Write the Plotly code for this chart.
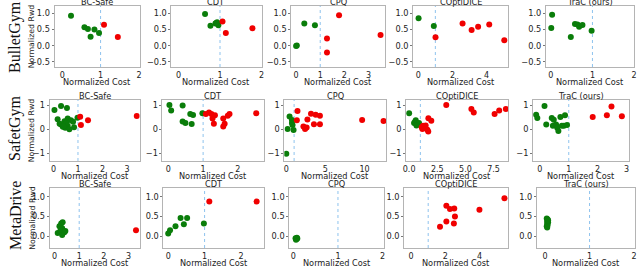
import plotly.graph_objects as go

W, H = 640, 266

ROW_LABELS = ["BulletGym", "SafetGym", "MetaDrive"]
METHODS = ["BC-Safe", "CDT", "CPQ", "COptiDICE", "TraC (ours)"]

# ---------------- BulletGym ----------------
BG_BCSAFE_COST = [0.23, 0.58, 0.67, 0.84, 0.74, 0.96, 1.09, 1.45]
BG_BCSAFE_RWD = [0.93, 0.57, 0.52, 0.50, 0.28, 0.39, 0.65, 0.27]
BG_CDT_COST = [0.64, 0.77, 0.89, 0.93, 0.96, 0.91, 1.06, 1.14, 1.78]
BG_CDT_RWD = [0.98, 0.62, 0.69, 0.73, 0.63, 0.70, 0.75, 0.39, 0.54]
BG_CPQ_COST = [0.03, 0.00, 0.34, 0.78, 1.78, 1.28, 1.28, 3.50]
BG_CPQ_RWD = [0.01, -0.01, 0.69, 0.63, 0.94, 0.22, -0.21, 0.33]
BG_COPTI_COST = [0.02, 0.91, 1.01, 2.59, 3.12, 3.50, 4.15, 5.03]
BG_COPTI_RWD = [0.85, 0.61, 0.26, 0.69, 0.49, 0.59, 0.66, 0.17]
BG_TRAC_COST = [0.03, 0.01, 0.48, 0.58, 0.64, 0.68, 0.76, 0.98]
BG_TRAC_RWD = [0.96, 0.55, 0.27, 0.67, 0.66, 0.59, 0.64, 0.46]

# ---------------- SafetyGym ----------------
SG_BCSAFE_COST = [0.04, 0.31, 0.55, 0.17, 0.31, 0.38, 0.48, 0.58, 0.58, 0.71,
                  0.80, 0.65, 0.84, 0.45, 0.98, 0.25, 0.52, 0.40, 1.09, 1.12, 1.41, 3.40]
SG_BCSAFE_RWD = [0.79, 0.96, 0.88, 0.41, 0.19, 0.10, 0.05, 0.14, 0.44, 0.37,
                 0.30, -0.01, 0.08, 0.32, 0.47, 0.22, 0.25, 0.12, 0.51, 0.17, 0.37, 0.54]
SG_CDT_COST = [0.03, 0.08, 0.41, 0.41, 0.49, 0.63, 0.71, 0.67, 0.98,
               1.08, 1.17, 1.24, 1.27, 1.34, 1.31, 1.58, 1.62, 1.58, 1.71, 1.76, 2.53]
SG_CDT_RWD = [1.00, 0.77, 0.98, 0.31, 0.25, 0.63, 0.59, 0.21, 0.66,
              0.63, 0.69, 0.63, 0.44, 0.58, 0.22, 0.44, 0.22, 0.11, 0.55, 0.63, 0.66]
SG_CPQ_COST = [0.00, 0.17, 0.42, 0.72, 0.72, 0.80, 0.93, 1.43, 1.35, 2.70, 2.19,
               2.40, 2.60, 3.16, 3.76, 4.30, 3.54, 4.30, 9.70, 12.44]
SG_CPQ_RWD = [-1.03, 0.00, 0.52, 0.38, 0.25, 0.17, -0.04, 0.75, 0.37, 0.40, 0.11,
              0.00, 0.07, 0.64, 0.60, 0.55, 0.20, 0.20, 0.38, 0.34]
SG_COPTI_COST = [0.00, 0.44, 0.59, 0.53, 0.74, 0.88, 0.65, 1.12, 1.24, 1.47, 1.18,
                 1.62, 1.70, 1.71, 1.97, 3.30, 5.53, 5.74, 7.59, 8.00, 8.59]
SG_COPTI_RWD = [0.66, 0.25, 0.37, 0.30, 0.19, 0.25, 0.15, 0.08, 0.14, 0.15, 0.00,
                -0.03, -0.10, 0.45, 0.35, 1.00, 0.84, 0.69, 0.63, 0.77, 0.84]
SG_TRAC_COST = [-0.13, -0.09, 0.16, 0.22, 0.41, 0.48, 0.45, 0.56, 0.60, 0.64,
                0.71, 0.83, 0.87, 0.94, 0.76, 1.83, 2.32, 2.48, 2.84]
SG_TRAC_RWD = [0.60, 0.46, 0.96, 0.19, 0.46, 0.39, 0.14, 0.19, 0.05, -0.08,
               0.50, 0.14, 0.57, 0.17, 0.14, 0.50, 0.57, 0.94, 0.53]

# ---------------- MetaDrive ----------------
MD_BCSAFE_COST = [0.13, 0.20, 0.27, 0.33, 0.31, 0.24, 0.40, 0.31, 0.44, 3.30]
MD_BCSAFE_RWD = [0.08, 0.25, 0.32, 0.35, 0.20, 0.14, 0.10, 0.03, 0.13, 0.15]
MD_CDT_COST = [0.00, 0.05, 0.20, 0.34, 0.43, 0.52, 0.98, 1.13, 2.43]
MD_CDT_RWD = [0.07, 0.15, 0.25, 0.46, 0.30, 0.46, 0.32, 0.88, 0.88]
MD_CPQ_COST = [0.05, 0.07, 0.09, 0.06, 0.08]
MD_CPQ_RWD = [-0.05, -0.07, -0.06, -0.09, -0.04]
MD_COPTI_COST = [5.45, 2.06, 2.27, 2.52, 3.99, 2.56, 2.06, 2.50, 1.69]
MD_COPTI_RWD = [0.96, 0.77, 0.69, 0.70, 0.67, 0.50, 0.37, 0.32, 0.24]
MD_TRAC_COST = [0.04, 0.06, 0.05, 0.07, 0.05, 0.06, 0.04, 0.07, 0.05]
MD_TRAC_RWD = [0.45, 0.42, 0.38, 0.35, 0.32, 0.28, 0.25, 0.40, 0.22]

DATA = [
    [(BG_BCSAFE_COST, BG_BCSAFE_RWD), (BG_CDT_COST, BG_CDT_RWD), (BG_CPQ_COST, BG_CPQ_RWD),
     (BG_COPTI_COST, BG_COPTI_RWD), (BG_TRAC_COST, BG_TRAC_RWD)],
    [(SG_BCSAFE_COST, SG_BCSAFE_RWD), (SG_CDT_COST, SG_CDT_RWD), (SG_CPQ_COST, SG_CPQ_RWD),
     (SG_COPTI_COST, SG_COPTI_RWD), (SG_TRAC_COST, SG_TRAC_RWD)],
    [(MD_BCSAFE_COST, MD_BCSAFE_RWD), (MD_CDT_COST, MD_CDT_RWD), (MD_CPQ_COST, MD_CPQ_RWD),
     (MD_COPTI_COST, MD_COPTI_RWD), (MD_TRAC_COST, MD_TRAC_RWD)],
]

COST_THRESHOLD = 1.0

X_TICKS = [
    [[0, 1, 2], [0, 1, 2], [0, 1, 2, 3], [0, 2, 4], [0, 1, 2]],
    [[0, 1, 2, 3], [0, 1, 2], [0, 5, 10], [0, 2.5, 5, 7.5], [0, 1, 2, 3]],
    [[0, 1, 2, 3], [0, 1, 2], [0, 1, 2], [0, 2, 4], [0, 1, 2]],
]
Y_TICKS = [[1.0, 0.5, 0.0, -0.5], [1, 0, -1], [1.0, 0.5, 0.0]]
Y_TICKFMT = [".1f", "d", ".1f"]

# layout (pixels)
X_RANGES = [
    [[-0.2, 2.02], [-0.17, 2.0], [-0.2, 3.7], [-0.3, 5.26], [-0.12, 2.0]],
    [[-0.16, 3.52], [-0.17, 2.74], [-0.25, 12.8], [-0.26, 8.8], [-0.24, 3.09]],
    [[-0.2, 3.45], [-0.13, 2.62], [-0.09, 2.04], [-0.4, 5.67], [-0.18, 2.02]],
]
Y_RANGES = [[-0.66, 1.23], [-1.33, 1.21], [-0.3, 1.22]]
ROW_PX = [(6, 67), (100, 161), (188, 248)]
XTITLE_OFF = [15, 15, 15]
COL_PX = [
    [(52, 138), (170, 261), (291, 386), (414, 510), (548, 637)],
    [(47, 138), (161, 263), (284, 387), (407, 510), (535, 632)],
    [(47, 138), (162, 263), (289, 385), (405, 510), (539, 638)],
]
ROW_LABEL_Y = [37, 128, 215]

FONT = "DejaVu Sans"
FS = 8.2
GREEN = "#0a7d0a"
RED = "#f00000"

fig = go.Figure()
layout = {}
annotations = []
shapes = []

k = 0
for r in range(3):
    top, bot = ROW_PX[r]
    ydom = [1 - bot / H, 1 - top / H]
    for c in range(5):
        k += 1
        xs = "x" if k == 1 else f"x{k}"
        ys = "y" if k == 1 else f"y{k}"
        xkey = "xaxis" if k == 1 else f"xaxis{k}"
        ykey = "yaxis" if k == 1 else f"yaxis{k}"
        l, rr = COL_PX[r][c]
        xdom = [l / W, rr / W]
        cost, rwd = DATA[r][c]
        colors = [GREEN if v <= COST_THRESHOLD else RED for v in cost]
        fig.add_trace(go.Scatter(
            x=cost, y=rwd, mode="markers", xaxis=xs, yaxis=ys,
            marker=dict(size=6, color=colors, line=dict(width=0)),
            showlegend=False, hoverinfo="skip"))
        xt = X_TICKS[r][c]
        if r == 1 and c == 3:
            xtt = [format(v, ".1f") for v in xt]
        else:
            xtt = [str(int(v)) for v in xt]
        layout[xkey] = dict(
            domain=xdom, anchor=ys, range=X_RANGES[r][c],
            tickvals=xt, ticktext=xtt,
            showgrid=False, zeroline=False, showline=True, mirror=True,
            linecolor="#b4b4b4", linewidth=1, ticks="",
            tickfont=dict(family=FONT, size=8, color="#222"))
        yt = Y_TICKS[r]
        if Y_TICKFMT[r] == "d":
            ytt = [str(int(v)) for v in yt]
        else:
            ytt = [format(v, ".1f") for v in yt]
        ytt = [t.replace("-", "\u2212") for t in ytt]
        layout[ykey] = dict(
            domain=ydom, anchor=xs, range=Y_RANGES[r],
            tickvals=yt, ticktext=ytt,
            showgrid=False, zeroline=False, showline=True, mirror=True,
            linecolor="#b4b4b4", linewidth=1, ticks="outside", ticklen=2,
            tickcolor="#777", tickfont=dict(family=FONT, size=FS, color="#222"))
        # cost threshold line
        shapes.append(dict(type="line", xref=xs, yref=f"{ys} domain",
                           x0=COST_THRESHOLD, x1=COST_THRESHOLD, y0=0, y1=1,
                           line=dict(color="#8ec3ee", width=1, dash="dot"), layer="below"))
        # subplot title
        annotations.append(dict(text=METHODS[c], x=(l + rr) / 2 / W, y=1 - (top - 4) / H,
                                xref="paper", yref="paper", xanchor="center", yanchor="middle",
                                showarrow=False, font=dict(family=FONT, size=FS, color="#222")))
        # x title
        annotations.append(dict(text="Normalized Cost", x=(l + rr) / 2 / W,
                                y=1 - (bot + XTITLE_OFF[r]) / H,
                                xref="paper", yref="paper", xanchor="center", yanchor="middle",
                                showarrow=False, font=dict(family=FONT, size=FS, color="#222")))
    # y title on first column
    annotations.append(dict(text="Normalized Rwd", x=29 / W, y=1 - (top + bot) / 2 / H,
                            xref="paper", yref="paper", xanchor="center", yanchor="middle",
                            textangle=-90, showarrow=False,
                            font=dict(family=FONT, size=7.8, color="#222")))
    annotations.append(dict(text=ROW_LABELS[r], x=12 / W, y=1 - ROW_LABEL_Y[r] / H,
                            xref="paper", yref="paper", xanchor="center", yanchor="middle",
                            textangle=-90, showarrow=False,
                            font=dict(family="Liberation Serif", size=16, color="#111")))

fig.update_layout(
    width=W, height=H, margin=dict(l=0, r=0, t=0, b=0),
    paper_bgcolor="white", plot_bgcolor="white",
    annotations=annotations, shapes=shapes, **layout)

fig.write_html("out.html", config={"displayModeBar": False},
               post_script="document.body.style.margin='0px';")
